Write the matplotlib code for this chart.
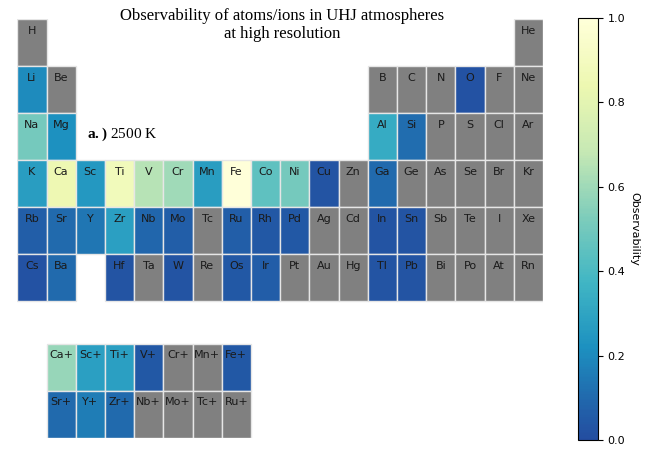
import matplotlib.pyplot as plt
import numpy as np
from matplotlib.colors import ListedColormap
from matplotlib.patches import Rectangle

nan = np.nan

# Periodic table rows (18 groups, '' = no cell)
period1 = ['H'] + [''] * 16 + ['He']
period2 = ['Li', 'Be'] + [''] * 10 + ['B', 'C', 'N', 'O', 'F', 'Ne']
period3 = ['Na', 'Mg'] + [''] * 10 + ['Al', 'Si', 'P', 'S', 'Cl', 'Ar']
period4 = ['K', 'Ca', 'Sc', 'Ti', 'V', 'Cr', 'Mn', 'Fe', 'Co', 'Ni', 'Cu', 'Zn',
           'Ga', 'Ge', 'As', 'Se', 'Br', 'Kr']
period5 = ['Rb', 'Sr', 'Y', 'Zr', 'Nb', 'Mo', 'Tc', 'Ru', 'Rh', 'Pd', 'Ag', 'Cd',
           'In', 'Sn', 'Sb', 'Te', 'I', 'Xe']
period6 = ['Cs', 'Ba', '', 'Hf', 'Ta', 'W', 'Re', 'Os', 'Ir', 'Pt', 'Au', 'Hg',
           'Tl', 'Pb', 'Bi', 'Po', 'At', 'Rn']

# Observability (nan = not observable, grey)
obs1 = [nan] + [nan] * 16 + [nan]
obs2 = [0.20, nan] + [nan] * 10 + [nan, nan, nan, 0.02, nan, nan]
obs3 = [0.50, 0.22] + [nan] * 10 + [0.33, 0.11, nan, nan, nan, nan]
obs4 = [0.27, 0.85, 0.25, 0.88, 0.65, 0.60, 0.27, 1.00, 0.45, 0.50, 0.03, nan,
        0.10, nan, nan, nan, nan, nan]
obs5 = [0.07, 0.10, 0.14, 0.28, 0.09, 0.07, nan, 0.07, 0.04, 0.04, nan, nan,
        0.03, 0.03, nan, nan, nan, nan]
obs6 = [0.02, 0.10, nan, 0.03, nan, 0.03, nan, 0.04, 0.06, nan, nan, nan,
        0.03, 0.03, nan, nan, nan, nan]

# Ions
ions1 = ['Ca+', 'Sc+', 'Ti+', 'V+', 'Cr+', 'Mn+', 'Fe+']
ions2 = ['Sr+', 'Y+', 'Zr+', 'Nb+', 'Mo+', 'Tc+', 'Ru+']
ion_obs1 = [0.58, 0.28, 0.28, 0.04, nan, nan, 0.04]
ion_obs2 = [0.10, 0.16, 0.10, nan, nan, nan, nan]

periods = [period1, period2, period3, period4, period5, period6]
obs = [obs1, obs2, obs3, obs4, obs5, obs6]

plt.rcParams['mathtext.fontset'] = 'custom'
plt.rcParams['mathtext.rm'] = 'Liberation Serif'
plt.rcParams['mathtext.bf'] = 'Liberation Serif:bold'

base = plt.get_cmap('YlGnBu')
cmap = ListedColormap(base(np.linspace(0.8, 0.0, 256)))
norm = plt.Normalize(0, 1)

fig = plt.figure(figsize=(6.64, 4.51), dpi=100)
ax = fig.add_axes([17.3 / 664, 1 - 437.7 / 451, 525.7 / 664, 418.4 / 451])
ax.set_xlim(0, 18)
ax.set_ylim(8.9, 0)
ax.axis('off')


def draw_cell(col, row, label, val):
    color = '#808080' if np.isnan(val) else cmap(norm(val))
    ax.add_patch(Rectangle((col, row), 1, 1, facecolor=color,
                           edgecolor='#e6e6e6', linewidth=1.0))
    ax.text(col + 0.5, row + 0.24, label, ha='center', va='center',
            fontsize=8, color='#1a1a1a')


for r, (syms, vals) in enumerate(zip(periods, obs)):
    for c, (s, v) in enumerate(zip(syms, vals)):
        if s:
            draw_cell(c, r, s, v)

ion_row = 6.9
for r, (syms, vals) in enumerate([(ions1, ion_obs1), (ions2, ion_obs2)]):
    for c, (s, v) in enumerate(zip(syms, vals)):
        draw_cell(c + 1, ion_row + r, s, v)

# label
ax.text(2.4, 2.45, r'$\mathbf{a.)}$ 2500 K', fontsize=11,
        family='Liberation Serif', ha='left', va='center')

fig.text(282 / 664, 1 - 8 / 451,
         'Observability of atoms/ions in UHJ atmospheres\nat high resolution',
         ha='center', va='top', fontsize=12, family='Liberation Serif')

cax = fig.add_axes([578 / 664, 1 - 440 / 451, 20 / 664, 422 / 451])
sm = plt.cm.ScalarMappable(norm=norm, cmap=cmap)
cb = fig.colorbar(sm, cax=cax)
cb.set_ticks([0, 0.2, 0.4, 0.6, 0.8, 1.0])
cb.ax.tick_params(labelsize=8)
cb.set_label('Observability', rotation=270, labelpad=10, fontsize=8)

fig.savefig('out.png', dpi=100)
